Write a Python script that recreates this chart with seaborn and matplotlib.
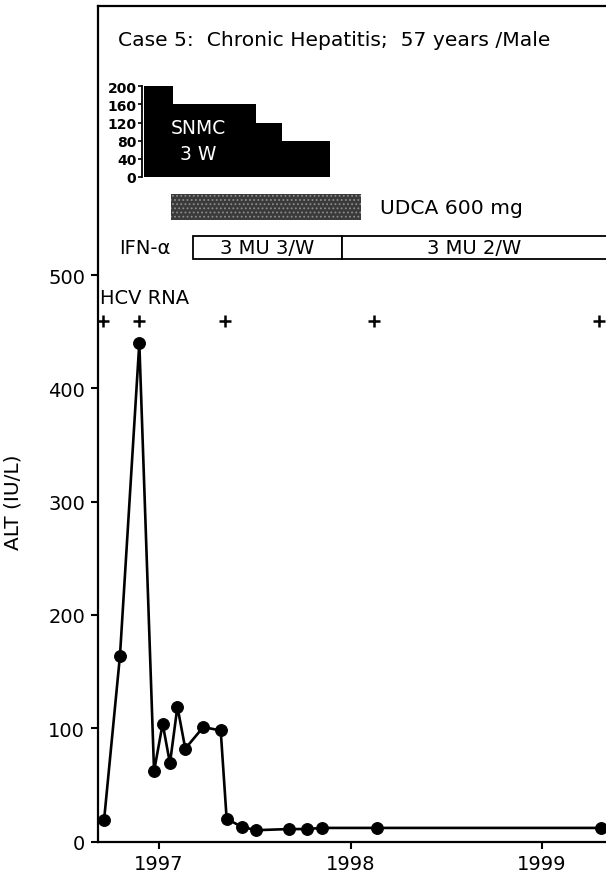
import numpy as np
import pandas as pd
import matplotlib
matplotlib.use("Agg")
import matplotlib.pyplot as plt
import seaborn as sns

# ALT values (IU/L) over time (decimal years)
alt_dates = [1996.713, 1996.796, 1996.897, 1996.974, 1997.019, 1997.057, 1997.096,
             1997.137, 1997.231, 1997.322, 1997.353, 1997.432, 1997.507, 1997.677,
             1997.771, 1997.849, 1998.140, 1999.310]
alt_values = [19, 164, 440, 62, 104, 69, 119, 82, 101, 98, 20, 13, 10, 11, 11, 12, 12, 12]

# HCV RNA positive results
hcv_dates = [1996.709, 1996.897, 1997.345, 1998.125, 1999.298]
hcv_level = 459

# SNMC dose steps (mg): boundaries and heights
snmc_edges = [1996.922, 1997.072, 1997.505, 1997.641, 1997.893]
snmc_doses = [200, 160, 120, 80]

# UDCA period
udca_start, udca_end = 1997.063, 1998.053

# IFN-alpha periods
ifn_edges = [1997.176, 1997.957, 1999.40]
ifn_labels = ["3 MU 3/W", "3 MU 2/W"]

year_ticks = [1997, 1998, 1999]
alt_ticks = [0, 100, 200, 300, 400, 500]

sns.set_style("ticks")
plt.rcParams['font.family'] = ['DejaVu Sans']
plt.rcParams['text.color'] = 'black'
plt.rcParams['axes.labelcolor'] = 'black'
plt.rcParams['xtick.color'] = 'black'
plt.rcParams['ytick.color'] = 'black'
plt.rcParams['axes.edgecolor'] = 'black'

fig = plt.figure(figsize=(6.06, 8.79), dpi=100)
ax = fig.add_axes([0.161, 0.0415, 0.839, 0.950])

df = pd.DataFrame({"date": alt_dates, "alt": alt_values})
sns.lineplot(data=df, x="date", y="alt", ax=ax, color="black", linewidth=1.9,
             marker="o", markersize=8.5, markeredgecolor="black", clip_on=False)

# HCV RNA "+" marks
hcv = pd.DataFrame({"date": hcv_dates, "lvl": [hcv_level] * len(hcv_dates)})
sns.scatterplot(data=hcv, x="date", y="lvl", ax=ax, marker="+", s=70,
                color="black", linewidth=1.8)

xmin, xmax = 1996.679, 1999.334
ax.set_xlim(xmin, xmax)
ax.set_ylim(0, 737)
ax.set_xticks(year_ticks)
ax.set_xticklabels([str(y) for y in year_ticks])
ax.set_yticks(alt_ticks)
ax.set_xlabel("")
ax.set_ylabel("ALT (IU/L)", fontsize=14.5)
ax.yaxis.set_label_coords(-0.147, 0.407)
ax.tick_params(axis="both", direction="out", length=5, width=1.5, labelsize=14, pad=4)
for side in ["left", "bottom", "top"]:
    ax.spines[side].set_linewidth(1.6)
    ax.spines[side].set_visible(True)
ax.spines["right"].set_visible(False)

# title and labels
ax.text(1996.786, 708, "Case 5:  Chronic Hepatitis;  57 years /Male", fontsize=14.6,
        va="center", ha="left")
ax.text(1996.692, 480, "HCV RNA", fontsize=14, va="center", ha="left")

# UDCA bar
plt.rcParams['hatch.linewidth'] = 0.8
ax.barh(560, udca_end - udca_start, left=udca_start, height=23,
        color="#3a3a3a", edgecolor="#8c8c8c", hatch="....", linewidth=0)
ax.text(1998.154, 560, "UDCA 600 mg", fontsize=14.6, va="center", ha="left")

# IFN-alpha boxes
ax.text(1996.791, 524, "IFN-\u03b1", fontsize=14, va="center", ha="left")
for i, lab in enumerate(ifn_labels):
    ax.barh(524, ifn_edges[i + 1] - ifn_edges[i], left=ifn_edges[i], height=20.5,
            color="white", edgecolor="black", linewidth=1.3)
    mid = (ifn_edges[i] + min(ifn_edges[i + 1], xmax)) / 2
    ax.text(mid, 524, lab, fontsize=14, va="center", ha="center")

# SNMC inset
ins = fig.add_axes([0.161, 0.7975, 0.839, 0.1032])
ins.set_xlim(xmin, xmax)
ins.set_ylim(0, 200)
widths = np.diff(snmc_edges)
ins.bar(snmc_edges[:-1], snmc_doses, width=widths, align="edge", color="black",
        linewidth=0)
ins.set_yticks([0, 40, 80, 120, 160, 200])
ins.set_xticks([])
ins.spines["left"].set_position(("data", 1996.911))
ins.spines["left"].set_linewidth(1.3)
for side in ["right", "top", "bottom"]:
    ins.spines[side].set_visible(False)
ins.patch.set_visible(False)
ins.tick_params(axis="y", direction="out", length=3, width=1.2, labelsize=10, pad=1)
for lbl in ins.get_yticklabels():
    lbl.set_fontweight("bold")
ins.text(1997.204, 110, "SNMC", color="white", fontsize=13.5, ha="center", va="center")
ins.text(1997.204, 51, "3 W", color="white", fontsize=13.5, ha="center", va="center")

plt.savefig("out.png", dpi=100)
